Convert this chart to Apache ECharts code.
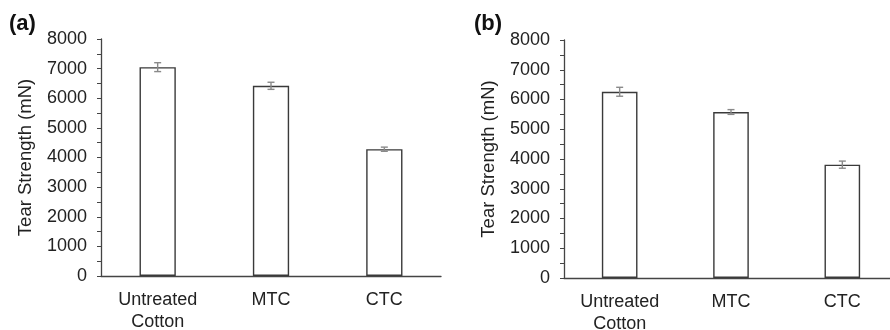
<!DOCTYPE html>
<html>
<head>
<meta charset="utf-8">
<script src="https://cdn.jsdelivr.net/npm/echarts@6/dist/echarts.min.js"></script>
<style>html,body{margin:0;padding:0;background:#fff}#c{width:890px;height:330px}</style>
</head>
<body>
<div id="c"></div>
<script>
const categories = ['Untreated\nCotton', 'MTC', 'CTC'];
const valuesA = [7050, 6420, 4280];
const errorsA = [150, 120, 70];
const valuesB = [6260, 5580, 3810];
const errorsB = [150, 80, 120];
const yTicks = [0, 1000, 2000, 3000, 4000, 5000, 6000, 7000, 8000];
const panelLabels = ['(a)', '(b)'];
const yTitle = 'Tear Strength (mN)';

const FONT = 'Liberation Sans, Arial, sans-serif';
const textColor = '#222';
const axisColor = '#444';

function xAxisCfg(gi) {
  return {
    type: 'category', gridIndex: gi, data: categories,
    axisLine: { lineStyle: { color: axisColor, width: 1.3 } },
    axisTick: { show: false },
    axisLabel: { color: textColor, fontFamily: FONT, fontSize: 18, lineHeight: 22, margin: 13 }
  };
}
function yAxisCfg(gi) {
  return {
    type: 'value', gridIndex: gi, min: yTicks[0], max: yTicks[yTicks.length - 1], interval: 1000,
    name: yTitle, nameLocation: 'middle', nameGap: 66,
    nameTextStyle: { color: textColor, fontFamily: FONT, fontSize: 18.5 },
    axisLine: { show: true, lineStyle: { color: axisColor, width: 1.3 } },
    axisTick: { show: true, length: 4, lineStyle: { color: axisColor } },
    minorTick: { show: true, splitNumber: 2, length: 4, lineStyle: { color: axisColor } },
    splitLine: { show: false },
    axisLabel: { color: textColor, fontFamily: FONT, fontSize: 18, margin: 14, formatter: v => String(v) }
  };
}
function barSeries(gi, vals) {
  return {
    type: 'bar', xAxisIndex: gi, yAxisIndex: gi, data: vals, barWidth: '32%',
    itemStyle: { color: '#fff', borderColor: '#3a3a3a', borderWidth: 1.4 },
    silent: true, z: 2
  };
}
function errSeries(gi, vals, errs) {
  return {
    type: 'custom', xAxisIndex: gi, yAxisIndex: gi, z: 5, silent: true,
    data: vals.map((v, i) => [i, v - errs[i], v + errs[i]]),
    renderItem: function (params, api) {
      const lo = api.coord([api.value(0), api.value(1)]);
      const hi = api.coord([api.value(0), api.value(2)]);
      const w = 3.5;
      const st = { stroke: '#8a8a8a', lineWidth: 1.4 };
      return {
        type: 'group', children: [
          { type: 'line', shape: { x1: hi[0], y1: hi[1], x2: lo[0], y2: lo[1] }, style: st },
          { type: 'line', shape: { x1: hi[0] - w, y1: hi[1], x2: hi[0] + w, y2: hi[1] }, style: st },
          { type: 'line', shape: { x1: lo[0] - w, y1: lo[1], x2: lo[0] + w, y2: lo[1] }, style: st }
        ]
      };
    }
  };
}

const chart = echarts.init(document.getElementById('c'), null, { renderer: 'canvas' });
chart.setOption({
  backgroundColor: '#fff',
  animation: false,
  grid: [
    { left: 101, top: 39, width: 340, height: 237, containLabel: false, outerBoundsMode: 'none' },
    { left: 564, top: 40, width: 334, height: 238, containLabel: false, outerBoundsMode: 'none' }
  ],
  xAxis: [xAxisCfg(0), xAxisCfg(1)],
  yAxis: [yAxisCfg(0), yAxisCfg(1)],
  series: [
    barSeries(0, valuesA), errSeries(0, valuesA, errorsA),
    barSeries(1, valuesB), errSeries(1, valuesB, errorsB)
  ],
  graphic: [
    { type: 'text', left: 9, top: 13, style: { text: panelLabels[0], font: 'bold 22px ' + FONT, fill: '#111' } },
    { type: 'text', left: 474, top: 13, style: { text: panelLabels[1], font: 'bold 22px ' + FONT, fill: '#111' } }
  ]
});
</script>
</body>
</html>
